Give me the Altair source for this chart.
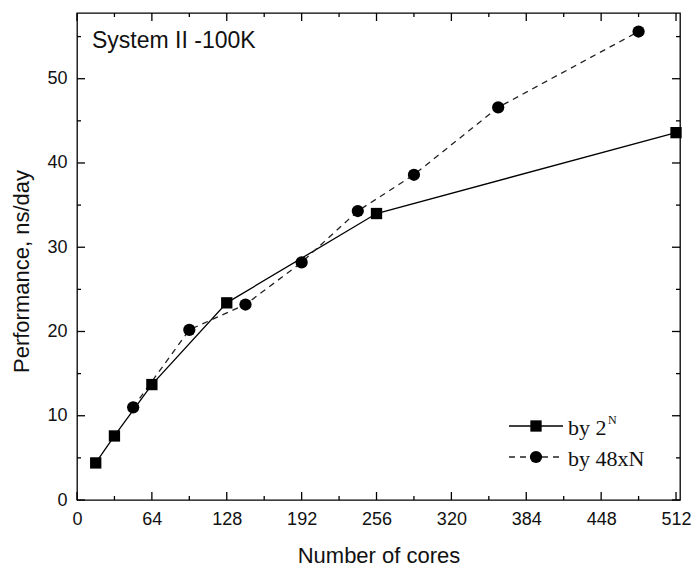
import altair as alt
import pandas as pd

# ---- data ----
cores_2n = [16, 32, 64, 128, 256, 512]
perf_2n = [4.4, 7.6, 13.7, 23.4, 34.0, 43.6]
cores_48n = [48, 96, 144, 192, 240, 288, 360, 480]
perf_48n = [11.0, 20.2, 23.2, 28.2, 34.3, 38.6, 46.6, 55.6]

x_major = [0, 64, 128, 192, 256, 320, 384, 448, 512]
x_minor = [32, 96, 160, 224, 288, 352, 416, 480]
y_major = [0, 10, 20, 30, 40, 50]
y_minor = [5, 15, 25, 35, 45, 55]

panel_title = "System II -100K"
legend_labels = ["by 2", "by 48xN"]
legend_sup = "N"
x_title = "Number of cores"
y_title = "Performance, ns/day"

# ---- layout / style ----
W, H = 603, 487
xs = alt.Scale(domain=[0, 515.4], nice=False, zero=False)
ys = alt.Scale(domain=[0, 57.8], nice=False, zero=False)
SANS = "Liberation Sans"
SERIF = "Liberation Serif"
MAJ, MIN = 8, 4
LW = 1.3

df_2n = pd.DataFrame({"cores": cores_2n, "perf": perf_2n})
df_48 = pd.DataFrame({"cores": cores_48n, "perf": perf_48n})

x_axis = alt.Axis(values=x_major, ticks=False, tickSize=0, domain=False, grid=False,
                  labelFont=SANS, labelFontSize=18, labelColor="#111111", labelPadding=10,
                  labelFlush=False, labelOverlap=False, format="d",
                  title=x_title, titleFont=SANS, titleFontSize=22, titleFontWeight="normal",
                  titleColor="#111111", titleY=62, titleBaseline="alphabetic")
y_axis = alt.Axis(values=y_major, ticks=False, tickSize=0, domain=False, grid=False,
                  labelFont=SANS, labelFontSize=18, labelColor="#111111", labelPadding=10,
                  labelFlush=False, labelOverlap=False, format="d",
                  title=y_title, titleFont=SANS, titleFontSize=22, titleFontWeight="normal",
                  titleColor="#111111", titleAngle=270, titleX=-56, titleY=258,
                  titleBaseline="middle", titleAlign="center")


def X(field):
    return alt.X(field, scale=xs, axis=x_axis)


def Y(field):
    return alt.Y(field, scale=ys, axis=y_axis)


line_2n = alt.Chart(df_2n).mark_line(color="black", strokeWidth=LW).encode(
    x=X("cores:Q"), y=Y("perf:Q"))
pts_2n = alt.Chart(df_2n).mark_point(shape="square", filled=True, size=128, color="black", opacity=1).encode(
    x=X("cores:Q"), y=Y("perf:Q"))
line_48 = alt.Chart(df_48).mark_line(color="#222222", strokeWidth=LW, strokeDash=[6, 5]).encode(
    x=X("cores:Q"), y=Y("perf:Q"))
pts_48 = alt.Chart(df_48).mark_point(shape="circle", filled=True, size=150, color="black", opacity=1).encode(
    x=X("cores:Q"), y=Y("perf:Q"))

layers = [line_2n, line_48, pts_2n, pts_48]


# tick marks on all four sides, pointing inward
def xticks(vals, length):
    d = pd.DataFrame({"cores": vals})
    out = []
    for y0, y1 in [(H, H - length), (0, length)]:
        out.append(alt.Chart(d).mark_rule(color="black", strokeWidth=LW).encode(
            x=X("cores:Q"), y=alt.value(y0), y2=alt.value(y1)))
    return out


def yticks(vals, length):
    d = pd.DataFrame({"perf": vals})
    out = []
    for x0, x1 in [(0, length), (W, W - length)]:
        out.append(alt.Chart(d).mark_rule(color="black", strokeWidth=LW).encode(
            y=Y("perf:Q"), x=alt.value(x0), x2=alt.value(x1)))
    return out


layers += xticks(x_major, MAJ) + xticks(x_minor, MIN) + yticks(y_major, MAJ) + yticks(y_minor, MIN)

# panel title
layers.append(alt.Chart(pd.DataFrame({"t": [panel_title]})).mark_text(
    align="left", baseline="alphabetic", font=SANS, fontSize=23, color="#111111").encode(
    text="t:N", x=alt.value(15), y=alt.value(35)))

# legend (drawn by hand)
leg_rows = [(413, "square", None), (444, "circle", [6, 5])]
for (ly, shape, dash), lab in zip(leg_rows, legend_labels):
    d = pd.DataFrame({"t": [lab]})
    rule_kwargs = dict(color="black", strokeWidth=LW)
    if dash:
        rule_kwargs["strokeDash"] = dash
        rule_kwargs["color"] = "#222222"
    layers.append(alt.Chart(d).mark_rule(**rule_kwargs).encode(
        x=alt.value(432), x2=alt.value(486), y=alt.value(ly)))
    layers.append(alt.Chart(d).mark_point(shape=shape, filled=True, size=128 if shape == "square" else 150,
                                          color="black", opacity=1).encode(
        x=alt.value(459), y=alt.value(ly)))
    layers.append(alt.Chart(d).mark_text(align="left", baseline="alphabetic", font=SERIF,
                                         fontSize=22, color="#111111").encode(
        text="t:N", x=alt.value(491), y=alt.value(ly + 9)))

layers.append(alt.Chart(pd.DataFrame({"t": [legend_sup]})).mark_text(
    align="left", baseline="alphabetic", font=SERIF, fontSize=12, color="#111111").encode(
    text="t:N", x=alt.value(531), y=alt.value(411)))

chart = alt.layer(*layers).properties(
    width=W, height=H, autosize="none", background="white",
    padding={"left": 77, "top": 13, "right": 11, "bottom": 67},
).configure_view(stroke="black", strokeWidth=LW)

chart.save("out.html", embed_options={"renderer": "svg", "actions": False})
